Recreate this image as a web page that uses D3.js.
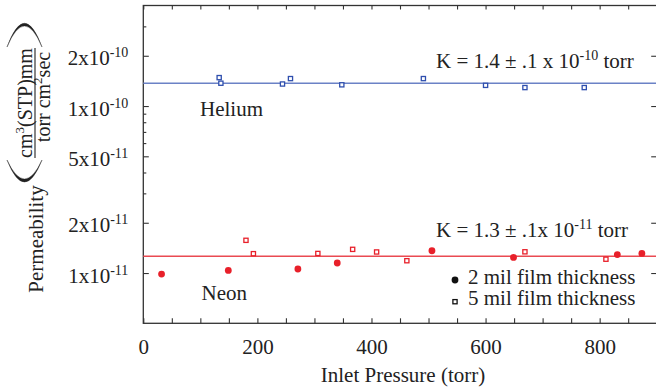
<!DOCTYPE html>
<html>
<head>
<meta charset="utf-8">
<script src="https://cdn.jsdelivr.net/npm/d3@7"></script>
<style>
  body { margin: 0; background: #fff; }
  svg text { font-family: 'Liberation Serif', Tinos, 'DejaVu Serif', serif; fill: #222; }
</style>
</head>
<body>
<svg id="chart" width="656" height="390"></svg>
<script>
// helium, 5 mil film (open squares)
const heliumPressure = [133, 136, 244, 258, 348, 491, 600, 669, 773];
const heliumPerm = [1.48e-10, 1.37e-10, 1.355e-10, 1.46e-10, 1.34e-10, 1.46e-10, 1.33e-10, 1.29e-10, 1.29e-10];

// neon, 2 mil film (filled circles)
const neon2Pressure = [32, 149, 271, 340, 506, 649, 831, 874];
const neon2Perm = [0.986e-11, 1.036e-11, 1.057e-11, 1.148e-11, 1.36e-11, 1.24e-11, 1.29e-11, 1.31e-11];

// neon, 5 mil film (open squares)
const neon5Pressure = [180, 193, 306, 367, 409, 462, 669, 811];
const neon5Perm = [1.57e-11, 1.306e-11, 1.31e-11, 1.386e-11, 1.337e-11, 1.185e-11, 1.34e-11, 1.21e-11];

// fitted constants
const heliumK = 1.37e-10;
const neonK = 1.26e-11;

const xDomain = [0, 900];
const yDomain = [5e-12, 4e-10];
const xLabelled = [0, 200, 400, 600, 800];
const yMajor = [1e-11, 2e-11, 5e-11, 1e-10, 2e-10];
const yMinor = [3e-11, 4e-11, 6e-11, 7e-11, 8e-11, 9e-11, 3e-10];

const margin = { left: 143.3, right: 656.7, top: 5.5, bottom: 323.3 };
const blue = '#2f4fae', blueLine = '#6b82c6';
const red = '#e8202a', redLine = '#ea4a52';
const serif = "'Liberation Serif', Tinos, 'DejaVu Serif', serif";

const svg = d3.select('#chart').attr('font-family', serif);

const x = d3.scaleLinear().domain(xDomain).range([margin.left, margin.right]);
const y = d3.scaleLog().domain(yDomain).range([margin.bottom, margin.top]);

// frame
svg.append('rect')
    .attr('x', margin.left).attr('y', margin.top)
    .attr('width', margin.right - margin.left)
    .attr('height', margin.bottom - margin.top)
    .attr('fill', 'none').attr('stroke', '#333').attr('stroke-width', 1.3);

function styleAxis(g) {
    g.attr('font-family', serif).attr('font-size', 21);
    g.select('.domain').remove();
    g.selectAll('.tick line').attr('stroke', '#333').attr('stroke-width', 1.1);
    g.selectAll('.tick text').attr('fill', '#222');
}

// x axes (ticks inward)
const xBottom = svg.append('g')
    .attr('transform', `translate(0,${margin.bottom})`)
    .call(d3.axisBottom(x).tickValues(d3.range(0, 901, 50))
        .tickSize(-5)
        .tickFormat(d => xLabelled.includes(d) ? d : ''));
styleAxis(xBottom);
xBottom.selectAll('.tick text').attr('dy', null).attr('y', 31);

const xTop = svg.append('g')
    .attr('transform', `translate(0,${margin.top})`)
    .call(d3.axisTop(x).tickValues(d3.range(0, 901, 50)).tickSize(-4).tickFormat(''));
styleAxis(xTop);

// y axes
const yLeft = svg.append('g')
    .attr('transform', `translate(${margin.left},0)`)
    .call(d3.axisLeft(y).tickValues(yMajor).tickSize(-5.5).tickPadding(15));
styleAxis(yLeft);
yLeft.selectAll('.tick text').each(function (d) {
    const t = d3.select(this);
    const e = Math.floor(Math.log10(d) + 1e-9);
    const m = Math.round(d / Math.pow(10, e));
    t.text(null).attr('dy', '0.43em');
    t.append('tspan').text(`${m}x10`);
    t.append('tspan').attr('dy', -8).attr('font-size', 14).text(`${e}`);
});

const yLeftMinor = svg.append('g')
    .attr('transform', `translate(${margin.left},0)`)
    .call(d3.axisLeft(y).tickValues(yMinor).tickSize(-3).tickFormat(''));
styleAxis(yLeftMinor);

const yRight = svg.append('g')
    .attr('transform', `translate(${margin.right},0)`)
    .call(d3.axisRight(y).tickValues(yMajor).tickSize(-5.5).tickFormat(''));
styleAxis(yRight);

// fit lines
const fitLine = d3.line().x(d => x(d[0])).y(d => y(d[1]));
svg.append('path')
    .attr('d', fitLine([[xDomain[0], heliumK], [xDomain[1], heliumK]]))
    .attr('stroke', blueLine).attr('stroke-width', 1.4).attr('fill', 'none');
svg.append('path')
    .attr('d', fitLine([[xDomain[0], neonK], [xDomain[1], neonK]]))
    .attr('stroke', redLine).attr('stroke-width', 1.4).attr('fill', 'none');

// markers
const sq = 4.2;
function squares(px, py, color) {
    svg.append('g').selectAll('rect')
        .data(px.map((p, i) => [p, py[i]]))
        .join('rect')
        .attr('x', d => x(d[0]) - sq / 2)
        .attr('y', d => y(d[1]) - sq / 2)
        .attr('width', sq).attr('height', sq)
        .attr('fill', '#fff').attr('stroke', color).attr('stroke-width', 1.3);
}
squares(heliumPressure, heliumPerm, blue);
squares(neon5Pressure, neon5Perm, red);

svg.append('g').selectAll('circle')
    .data(neon2Pressure.map((p, i) => [p, neon2Perm[i]]))
    .join('circle')
    .attr('cx', d => x(d[0]))
    .attr('cy', d => y(d[1]))
    .attr('r', 3.4)
    .attr('fill', red);

// labels
svg.append('text').attr('x', 200).attr('y', 116).attr('font-size', 21).text('Helium');
svg.append('text').attr('x', 201.5).attr('y', 300).attr('font-size', 21).text('Neon');

const k1 = svg.append('text').attr('x', 436).attr('y', 68.3).attr('font-size', 21);
k1.append('tspan').text('K = 1.4 \u00b1 .1 x 10');
k1.append('tspan').attr('dy', -8).attr('font-size', 14).text('-10');
k1.append('tspan').attr('dy', 8).text(' torr');

const k2 = svg.append('text').attr('x', 436).attr('y', 236.7).attr('font-size', 21);
k2.append('tspan').text('K = 1.3 \u00b1 .1x 10');
k2.append('tspan').attr('dy', -8).attr('font-size', 14).text('-11');
k2.append('tspan').attr('dy', 8).text(' torr');

// legend
svg.append('circle').attr('cx', 455).attr('cy', 280).attr('r', 3.4).attr('fill', '#111');
svg.append('rect').attr('x', 455 - sq / 2).attr('y', 301.7 - sq / 2).attr('width', sq).attr('height', sq)
    .attr('fill', '#fff').attr('stroke', '#111').attr('stroke-width', 1.3);
svg.append('text').attr('x', 468).attr('y', 283.5).attr('font-size', 21).text('2 mil film thickness');
svg.append('text').attr('x', 468).attr('y', 305).attr('font-size', 21).text('5 mil film thickness');

// x title
svg.append('text').attr('x', 403).attr('y', 381.7).attr('font-size', 21)
    .attr('text-anchor', 'middle').text('Inlet Pressure (torr)');

// y title: Permeability (cm3(STP)mm / torr cm2sec), rotated
svg.append('text')
    .attr('transform', 'translate(42.7,239) rotate(-90)')
    .attr('text-anchor', 'middle').attr('font-size', 21)
    .text('Permeability');

const num = svg.append('text')
    .attr('transform', 'translate(31.5,103) rotate(-90)')
    .attr('text-anchor', 'middle').attr('font-size', 20);
num.append('tspan').text('cm');
num.append('tspan').attr('dy', -8).attr('font-size', 13).text('3');
num.append('tspan').attr('dy', 8).text('(STP)mm');

const den = svg.append('text')
    .attr('transform', 'translate(50,97) rotate(-90)')
    .attr('text-anchor', 'middle').attr('font-size', 20);
den.append('tspan').text('torr cm');
den.append('tspan').attr('dy', -8).attr('font-size', 13).text('2');
den.append('tspan').attr('dy', 8).text('sec');

// fraction bar
svg.append('line').attr('x1', 35).attr('x2', 35).attr('y1', 48).attr('y2', 158)
    .attr('stroke', '#222').attr('stroke-width', 1.1);

// big parentheses (rotated)
svg.append('path')
    .attr('d', 'M7,160 Q24.5,204 42,160 Q24.5,198 7,160 Z')
    .attr('fill', '#222').attr('stroke', '#222').attr('stroke-width', 0.4);
svg.append('path')
    .attr('d', 'M7,47 Q24.5,-0.5 42,47 Q24.5,5 7,47 Z')
    .attr('fill', '#222').attr('stroke', '#222').attr('stroke-width', 0.4);
</script>
</body>
</html>
